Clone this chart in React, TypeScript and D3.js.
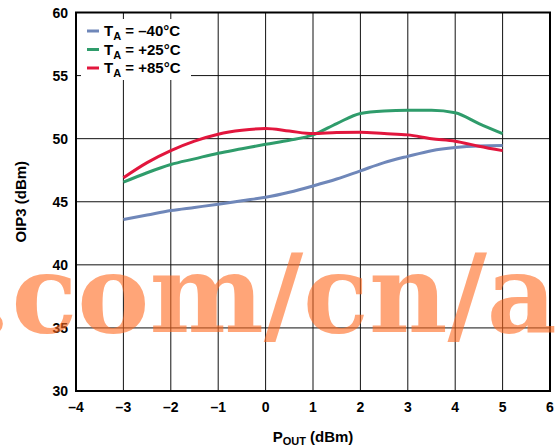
import React from 'react';
import * as d3 from 'd3';

// output power (dBm), read at half-dBm steps
const pout = [-3, -2.5, -2, -1.5, -1, -0.5, 0, 0.5, 1, 1.5, 2, 2.5, 3, 3.5, 4, 4.5, 5];
const oip3Cold = [43.6, 43.95, 44.3, 44.55, 44.8, 45.08, 45.35, 45.75, 46.25, 46.8, 47.45, 48.1, 48.6, 49.05, 49.3, 49.42, 49.45];
const oip3Room = [46.55, 47.3, 47.95, 48.4, 48.85, 49.2, 49.55, 49.87, 50.3, 51.2, 52.0, 52.2, 52.25, 52.25, 52.05, 51.2, 50.4];
const oip3Hot = [46.9, 48.1, 49.05, 49.8, 50.35, 50.66, 50.8, 50.6, 50.4, 50.48, 50.5, 50.4, 50.3, 50.0, 49.8, 49.4, 49.05];

const seriesLabels = ['\u201340\u00b0C', '+25\u00b0C', '+85\u00b0C'];
const seriesColors = ['#6f87b9', '#2f9c6b', '#e2163d'];

const xTicks = [-4, -3, -2, -1, 0, 1, 2, 3, 4, 5, 6];
const yTicks = [30, 35, 40, 45, 50, 55, 60];

const App = () => {
  const width = 560;
  const height = 448;

  const x = d3.scaleLinear().domain([-4, 6]).range([76, 550]);
  const y = d3.scaleLinear().domain([30, 60]).range([391, 12.5]);

  const line = d3.line<number>()
    .x((d, i) => x(pout[i]))
    .y(d => y(d))
    .curve(d3.curveMonotoneX);

  const series = [oip3Cold, oip3Room, oip3Hot];
  const font = 'Liberation Sans, Arial, sans-serif';
  const fmt = (t: number) => (t < 0 ? '\u2013' + Math.abs(t) : String(t));

  return (
    <svg width={width} height={height} style={{ position: 'absolute', left: 0, top: 0, background: '#fff' }}
      fontFamily={font} fontWeight="bold">
      {/* grid */}
      {xTicks.slice(1, -1).map(t => (
        <line key={'gx' + t} x1={x(t)} x2={x(t)} y1={y(60)} y2={y(30)} stroke="#111" strokeWidth={1} />
      ))}
      {yTicks.slice(1, -1).map(t => (
        <line key={'gy' + t} x1={x(-4)} x2={x(6)} y1={y(t)} y2={y(t)} stroke="#111" strokeWidth={1} />
      ))}

      {/* curves */}
      {series.map((s, i) => (
        <path key={'s' + i} d={line(s) || ''} fill="none" stroke={seriesColors[i]} strokeWidth={3} />
      ))}

      {/* legend */}
      <rect x={81} y={19} width={110} height={61} fill="#fff" />
      {seriesLabels.map((lab, i) => (
        <g key={'lg' + i} transform={`translate(87,${31 + i * 18.5})`}>
          <line x1={0} x2={12} y1={0} y2={0} stroke={seriesColors[i]} strokeWidth={3} />
          <text x={17} y={5} fontSize={15} fill="#000">
            T<tspan fontSize={11} dy={4}>A</tspan><tspan dy={-4}> = {lab}</tspan>
          </text>
        </g>
      ))}

      {/* frame */}
      <rect x={x(-4)} y={y(60)} width={x(6) - x(-4)} height={y(30) - y(60)} fill="none" stroke="#000" strokeWidth={2} />

      {/* tick labels */}
      {yTicks.map(t => (
        <text key={'ty' + t} x={68} y={y(t) + 5} textAnchor="end" fontSize={14} fill="#000">{t}</text>
      ))}
      {xTicks.map(t => (
        <text key={'tx' + t} x={x(t)} y={412} textAnchor="middle" fontSize={14} fill="#000">{fmt(t)}</text>
      ))}

      {/* axis titles */}
      <text x={313} y={442} textAnchor="middle" fontSize={15} fill="#000">
        P<tspan fontSize={11} dy={3}>OUT</tspan><tspan dy={-3}> (dBm)</tspan>
      </text>
      <text transform={`translate(26,${y(45)}) rotate(-90)`} textAnchor="middle" fontSize={15} fill="#000">OIP3 (dBm)</text>

      {/* watermark */}
      <text x={-26} y={332} fontFamily="DejaVu Serif, serif" fontWeight="bold" fontSize={108}
        fill="#ff6a20" opacity={0.6}>.com/cn/a</text>
    </svg>
  );
};

export default App;
